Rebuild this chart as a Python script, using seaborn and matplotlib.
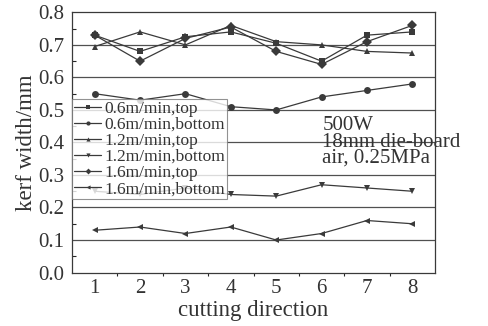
import pandas as pd
import numpy as np
import matplotlib
matplotlib.use("Agg")
import matplotlib.pyplot as plt
import seaborn as sns

# values
direction = [1, 2, 3, 4, 5, 6, 7, 8]
s06_top = [0.73, 0.68, 0.725, 0.74, 0.705, 0.65, 0.73, 0.74]
s06_bottom = [0.55, 0.53, 0.55, 0.51, 0.50, 0.54, 0.56, 0.58]
s12_top = [0.695, 0.74, 0.70, 0.76, 0.71, 0.70, 0.68, 0.675]
s12_bottom = [0.25, 0.24, 0.26, 0.24, 0.235, 0.27, 0.26, 0.25]
s16_top = [0.73, 0.65, 0.72, 0.755, 0.68, 0.64, 0.71, 0.76]
s16_bottom = [0.13, 0.14, 0.12, 0.14, 0.10, 0.12, 0.16, 0.15]
labels = ['0.6m/min,top', '0.6m/min,bottom', '1.2m/min,top',
          '1.2m/min,bottom', '1.6m/min,top', '1.6m/min,bottom']
markers = ['s', 'o', '^', 'v', 'D', '<']

series = [s06_top, s06_bottom, s12_top, s12_bottom, s16_top, s16_bottom]
df = pd.DataFrame({
    'direction': np.tile(direction, len(labels)),
    'kerf': np.concatenate(series),
    'series': np.repeat(labels, len(direction)),
})

sns.set_style("white")
plt.rcParams['font.family'] = ['Liberation Serif', 'DejaVu Serif']

ink = '#3a3a3a'
txt = '#333333'
fig = plt.figure(figsize=(4.88, 3.26), dpi=100)
ax = fig.add_axes([0.1475, 0.164, 0.744, 0.798])

for y in np.arange(0.1, 0.8, 0.1):
    ax.axhline(y, color='#505050', lw=0.9, zorder=0)

sns.lineplot(data=df, x='direction', y='kerf', hue='series', style='series',
             hue_order=labels, style_order=labels,
             palette=[ink] * 6, markers=dict(zip(labels, markers)),
             dashes=False, markersize=5, lw=0.9, markeredgewidth=0,
             ax=ax, zorder=3)

ax.set_xlim(0.5, 8.5)
ax.set_ylim(0.0, 0.8)
ax.set_xticks(direction)
ax.set_xticks(np.arange(1.5, 8.5, 1.0), minor=True)
ax.set_yticks(np.arange(0, 0.81, 0.1))
ax.set_yticks(np.arange(0.05, 0.8, 0.1), minor=True)
ax.set_yticklabels([f'{v:.1f}' for v in np.arange(0, 0.81, 0.1)])
ax.tick_params(axis='both', labelsize=15, colors=ink, labelcolor=txt)
ax.tick_params(axis='y', which='major', direction='inout', length=7, width=0.9, pad=2)
ax.tick_params(axis='y', which='minor', direction='in', length=3, width=0.8, left=True)
ax.tick_params(axis='x', which='major', direction='out', length=4, width=0.9, pad=1)
ax.tick_params(axis='x', which='minor', direction='out', length=2.5, width=0.8, bottom=True)
for sp in ax.spines.values():
    sp.set_color(ink)
    sp.set_linewidth(0.9)

ax.set_xlabel('cutting direction', fontsize=16.5, color=txt, labelpad=1)
ax.set_ylabel('kerf width/mm', fontsize=16.5, color=txt, labelpad=1)

leg = ax.legend(loc='upper left', bbox_to_anchor=(0.0, 0.668), fontsize=12.5,
                frameon=True, fancybox=False, handlelength=1.6, handletextpad=0.15,
                labelspacing=0.0, borderpad=0.1, borderaxespad=0.0,
                markerscale=0.6)
leg.get_frame().set_edgecolor('#777777')
leg.get_frame().set_linewidth(0.8)
for t in leg.get_texts():
    t.set_color(txt)

ax.text(0.69, 0.6, '500W\n18mm die-board\nair, 0.25MPa', transform=ax.transAxes,
        fontsize=15, color=txt, va='top', ha='left', linespacing=0.8)

fig.savefig('out.png', dpi=100)
